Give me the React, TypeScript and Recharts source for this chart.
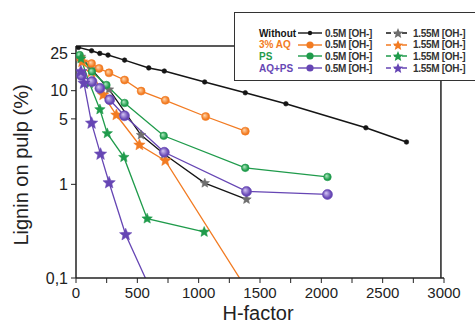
import React from "react";
import { LineChart, Line, XAxis, YAxis, ReferenceLine } from "recharts";

// H-factor values and lignin on pulp (%)
const hWithout05 = [20, 127, 194, 261, 396, 593, 720, 1049, 1380, 1711, 2363, 2694];
const ligWithout05 = [29, 26.7, 25.0, 24.0, 21.2, 17.5, 16.2, 12.4, 9.5, 7.25, 4.02, 2.83];
const hWithout155 = [40, 127, 269, 530, 720, 1050, 1390];
const ligWithout155 = [23, 17, 10.3, 3.36, 2.1, 1.03, 0.69];

const hAQ05 = [40, 127, 188, 269, 396, 531, 728, 1057, 1380];
const ligAQ05 = [22, 19.5, 17.3, 15.5, 13.0, 9.9, 7.9, 5.3, 3.7];
const hAQ155 = [50, 127, 221, 329, 517, 728, 1380];
const ligAQ155 = [20.3, 15.9, 9.0, 5.5, 2.63, 1.79, 0.08];

const hPS05 = [30, 130, 248, 396, 715, 1380, 2050];
const ligPS05 = [24, 16, 11.5, 7.4, 3.3, 1.5, 1.2];
const hPS155 = [40, 110, 195, 255, 390, 580, 1045];
const ligPS155 = [22, 12, 6.3, 3.5, 1.95, 0.43, 0.31];

const hAQPS05 = [45, 130, 195, 275, 395, 720, 1390, 2050];
const ligAQPS05 = [14.5, 12.5, 10.6, 8.0, 5.4, 2.2, 0.84, 0.78];
const hAQPS155 = [40, 65, 127, 200, 270, 405, 590];
const ligAQPS155 = [16, 12, 4.5, 2.1, 1.04, 0.29, 0.085];

const xTicks = [0, 250, 500, 750, 1000, 1250, 1500, 1750, 2000, 2250, 2500, 2750, 3000];
const yTicks = [0.1, 1, 5, 10, 25];

const legendRows = ["Without", "3% AQ", "PS", "AQ+PS"];
const legendCols = ["0.5M [OH-]", "1.55M [OH-]"];

const toPoints = (h: number[], v: number[]) => h.map((x, i) => ({ h: x, v: v[i] }));

const FONT = "'Liberation Sans', Arial, sans-serif";

const C = {
  black: "#151515",
  gray: "#6e6e6e",
  orange: "#f27b22",
  green: "#1f9b4b",
  purple: "#6646b4",
};

const starPoints = (cx: number, cy: number, R: number) => {
  const r = R * 0.45;
  const pts: string[] = [];
  for (let i = 0; i < 10; i++) {
    const a = -Math.PI / 2 + (i * Math.PI) / 5;
    const rad = i % 2 === 0 ? R : r;
    pts.push(`${cx + rad * Math.cos(a)},${cy + rad * Math.sin(a)}`);
  }
  return pts.join(" ");
};

const circleDot = (fill: string, r: number, stroke: string) => (props: any) => {
  const { cx, cy, index } = props;
  if (cx == null || cy == null) return <g key={`c-${index}`} />;
  return <circle key={`c-${index}`} cx={cx} cy={cy} r={r} fill={fill} stroke={stroke} strokeWidth={0.6} />;
};

const starDot = (fill: string, R: number) => (props: any) => {
  const { cx, cy, index } = props;
  if (cx == null || cy == null) return <g key={`s-${index}`} />;
  return <polygon key={`s-${index}`} points={starPoints(cx, cy, R)} fill={fill} stroke={fill} strokeWidth={0.5} />;
};

const series = [
  { key: "w05", data: toPoints(hWithout05, ligWithout05), color: C.black, width: 1.5, dot: circleDot(C.black, 2.3, C.black) },
  { key: "w155", data: toPoints(hWithout155, ligWithout155), color: C.black, width: 1.3, dot: starDot(C.gray, 5) },
  { key: "aq05", data: toPoints(hAQ05, ligAQ05), color: C.orange, width: 1.3, dot: circleDot("url(#gOrange)", 4, C.orange) },
  { key: "aq155", data: toPoints(hAQ155, ligAQ155), color: C.orange, width: 1.3, dot: starDot(C.orange, 6) },
  { key: "ps05", data: toPoints(hPS05, ligPS05), color: C.green, width: 1.3, dot: circleDot("url(#gGreen)", 3.8, C.green) },
  { key: "ps155", data: toPoints(hPS155, ligPS155), color: C.green, width: 1.3, dot: starDot(C.green, 5.5) },
  { key: "aqps05", data: toPoints(hAQPS05, ligAQPS05), color: C.purple, width: 1.3, dot: circleDot("url(#gPurple)", 5, C.purple) },
  { key: "aqps155", data: toPoints(hAQPS155, ligAQPS155), color: C.purple, width: 1.3, dot: starDot(C.purple, 6.5) },
];

const legendColors = [
  { label: C.black, line: C.black, circle: C.black, star: C.gray },
  { label: C.orange, line: C.orange, circle: C.orange, star: C.orange },
  { label: C.green, line: C.green, circle: C.green, star: C.green },
  { label: C.purple, line: C.purple, circle: C.purple, star: C.purple },
];

const LegendSymbol = ({ line, fill, star, small }: { line: string; fill: string; star?: boolean; small?: boolean }) => (
  <svg width={26} height={10} style={{ display: "block" }}>
    <line x1={1} y1={5} x2={25} y2={5} stroke={line} strokeWidth={1.4} strokeDasharray={star ? "5 3" : undefined} />
    {star ? (
      <polygon points={starPoints(13, 5.5, 5.5)} fill={fill} />
    ) : (
      <circle cx={13} cy={5} r={small ? 2.2 : 3.6} fill={fill} />
    )}
  </svg>
);

const ChartLegend = () => (
  <div
    style={{
      position: "absolute",
      left: 234,
      top: 12,
      width: 260,
      height: 67,
      background: "#fff",
      border: "1px solid #333",
      fontFamily: FONT,
      fontSize: 10,
      fontWeight: 700,
    }}
  >
    {legendRows.map((row, i) => (
      <div key={row} style={{ position: "absolute", top: 14 + i * 11.7, left: 24, height: 12, display: "flex", alignItems: "center" }}>
        <span style={{ width: 38, color: legendColors[i].label }}>{row}</span>
        <LegendSymbol line={legendColors[i].line} fill={legendColors[i].circle} small={i === 0} />
        <span style={{ width: 60, marginLeft: 2, color: "#333", letterSpacing: -0.3 }}>{legendCols[0]}</span>
        <LegendSymbol line={legendColors[i].line} fill={legendColors[i].star} star />
        <span style={{ marginLeft: 2, color: "#333", letterSpacing: -0.3 }}>{legendCols[1]}</span>
      </div>
    ))}
  </div>
);

export default function App() {
  return (
    <div style={{ position: "absolute", left: 0, top: 0, width: 475, height: 336, background: "#fff", overflow: "hidden" }}>
      <LineChart width={475} height={336} margin={{ top: 46, right: 31, bottom: 28, left: 10 }}>
        <defs>
          <radialGradient id="gOrange" cx="50%" cy="50%" fx="35%" fy="35%" r="60%">
            <stop offset="0%" stopColor="#ffd9b0" />
            <stop offset="70%" stopColor={C.orange} />
          </radialGradient>
          <radialGradient id="gGreen" cx="50%" cy="50%" fx="35%" fy="35%" r="60%">
            <stop offset="0%" stopColor="#b5ecc5" />
            <stop offset="70%" stopColor={C.green} />
          </radialGradient>
          <radialGradient id="gPurple" cx="50%" cy="50%" fx="35%" fy="35%" r="60%">
            <stop offset="0%" stopColor="#d6c9f5" />
            <stop offset="70%" stopColor={C.purple} />
          </radialGradient>
        </defs>
        <XAxis
          type="number"
          dataKey="h"
          domain={[0, 3000]}
          ticks={xTicks}
          interval={0}
          tickFormatter={(v: number) => (v % 500 === 0 ? String(v) : "")}
          height={30}
          tickSize={5}
          tickMargin={4}
          axisLine={{ stroke: "#222", strokeWidth: 1.5 }}
          tickLine={{ stroke: "#222" }}
          tick={{ fontFamily: FONT, fontSize: 15, fill: "#222" }}
          allowDataOverflow
          label={{
            content: () => (
              <text x={258} y={320} textAnchor="middle" fontFamily={FONT} fontSize={20} fill="#222">
                H-factor
              </text>
            ),
          }}
        />
        <YAxis
          type="number"
          scale="log"
          domain={[0.1, 30]}
          ticks={yTicks}
          interval={0}
          allowDataOverflow
          tickFormatter={(v: number) => (v === 0.1 ? "0,1" : String(v))}
          width={66}
          tickSize={5}
          tickMargin={3}
          axisLine={{ stroke: "#222", strokeWidth: 1.5 }}
          tickLine={{ stroke: "#222" }}
          tick={{ fontFamily: FONT, fontSize: 16, fill: "#222" }}
          label={{
            content: () => (
              <text x={28} y={165} transform="rotate(-90, 28, 165)" textAnchor="middle" fontFamily={FONT} fontSize={20} fill="#222">
                Lignin on pulp (%)
              </text>
            ),
          }}
        />
        <ReferenceLine y={30} stroke="#222" strokeWidth={1.5} />
        <ReferenceLine x={2975} stroke="#222" strokeWidth={1.5} />
        {series.map((s) => (
          <Line
            key={s.key}
            data={s.data}
            dataKey="v"
            type="linear"
            stroke={s.color}
            strokeWidth={s.width}
            dot={s.dot}
            activeDot={false}
            isAnimationActive={false}
          />
        ))}
      </LineChart>
      <ChartLegend />
    </div>
  );
}
